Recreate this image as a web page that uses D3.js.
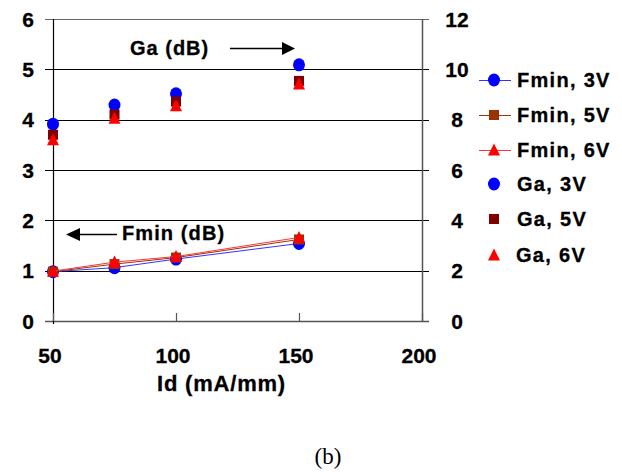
<!DOCTYPE html>
<html><head><meta charset="utf-8">
<script src="https://cdn.jsdelivr.net/npm/d3@7"></script>
<style>body{margin:0;background:#fff}svg{display:block}</style>
</head><body>
<script>
const idValues = [50, 75, 100, 150];
const fmin3V = [0.98, 1.06, 1.23, 1.54];
const fmin5V = [0.98, 1.13, 1.26, 1.62];
const fmin6V = [0.99, 1.17, 1.28, 1.66];
const ga3V = [7.82, 8.58, 9.03, 10.18];
const ga5V = [7.4, 8.2, 8.72, 9.54];
const ga6V = [7.2, 8.06, 8.55, 9.42];
const xTicks = [50, 100, 150, 200];
const yLeftTicks = [0, 1, 2, 3, 4, 5, 6];
const yRightTicks = [0, 2, 4, 6, 8, 10, 12];
const legendLabels = ["Fmin, 3V", "Fmin, 5V", "Fmin, 6V", "Ga, 3V", "Ga, 5V", "Ga, 6V"];

const W = 622, H = 476;
const svg = d3.select("body").append("svg").attr("width", W).attr("height", H);
const L = 53, R = 422, T = 19, B = 321;
const x = d3.scaleLinear().domain([50, 200]).range([L, R]);
const yL = d3.scaleLinear().domain([0, 6]).range([B, T]);
const yR = d3.scaleLinear().domain([0, 12]).range([B, T]);
const font = "Arial, 'Liberation Sans', sans-serif";

// gridlines
svg.append("g").selectAll("line").data(yLeftTicks.filter(d => d > 0 && d < 6)).join("line")
  .attr("x1", L - 8).attr("x2", R + 7).attr("y1", d => Math.round(yL(d)) + 0.5).attr("y2", d => Math.round(yL(d)) + 0.5)
  .attr("stroke", "#000").attr("stroke-width", 1);
svg.append("line").attr("x1", L - 8).attr("x2", R + 7).attr("y1", Math.round(yL(6)) + 0.5).attr("y2", Math.round(yL(6)) + 0.5)
  .attr("stroke", "#666").attr("stroke-width", 1.2);
// bottom axis
svg.append("line").attr("x1", L - 8).attr("x2", R + 7).attr("y1", Math.round(yL(0)) + 0.5).attr("y2", Math.round(yL(0)) + 0.5)
  .attr("stroke", "#555").attr("stroke-width", 1.5);
// left axis
svg.append("line").attr("x1", L + 0.5).attr("x2", L + 0.5).attr("y1", T).attr("y2", B + 3).attr("stroke", "#000").attr("stroke-width", 1.2);
// right axis
svg.append("line").attr("x1", R + 0.5).attr("x2", R + 0.5).attr("y1", T).attr("y2", B + 1).attr("stroke", "#555").attr("stroke-width", 1.5);
// x ticks (inside, upward)
svg.append("g").selectAll("line").data(xTicks).join("line")
  .attr("x1", d => Math.round(x(d)) + 0.5).attr("x2", d => Math.round(x(d)) + 0.5)
  .attr("y1", B - 8).attr("y2", B).attr("stroke", "#555").attr("stroke-width", 1.2);

// tick labels
const boldText = sel => sel.attr("font-family", font).attr("font-weight", "bold")
  .attr("stroke", "#000").attr("stroke-width", 0.3);
svg.append("g").selectAll("text").data(yLeftTicks).join("text")
  .attr("x", 34).attr("y", d => yL(d) + 7.5).attr("text-anchor", "end")
  .call(boldText).attr("font-size", 21).text(d => d);
svg.append("g").selectAll("text").data(yRightTicks).join("text")
  .attr("x", 457).attr("y", d => yR(d) + 7.5).attr("text-anchor", "middle")
  .call(boldText).attr("font-size", 21).text(d => d);
svg.append("g").selectAll("text").data(xTicks).join("text")
  .attr("x", d => x(d) - 3).attr("y", 363).attr("text-anchor", "middle")
  .call(boldText).attr("font-size", 21).text(d => d);
svg.append("text").attr("x", 157).attr("y", 391)
  .call(boldText).attr("font-size", 22).attr("letter-spacing", 0.8).text("Id (mA/mm)");
svg.append("text").attr("x", 328).attr("y", 464).attr("text-anchor", "middle")
  .attr("font-family", "'Liberation Serif', 'Times New Roman', serif").attr("font-size", 23).text("(b)");

// annotations
svg.append("text").attr("x", 130).attr("y", 55).call(boldText).attr("font-size", 20).attr("letter-spacing", 1).text("Ga (dB)");
svg.append("line").attr("x1", 230).attr("x2", 282).attr("y1", 48.5).attr("y2", 48.5).attr("stroke", "#000").attr("stroke-width", 1.5);
svg.append("path").attr("d", "M282,42 L295,48.5 L282,55 Z").attr("fill", "#000");
svg.append("text").attr("x", 122).attr("y", 240).call(boldText).attr("font-size", 20).attr("letter-spacing", 1.1).text("Fmin (dB)");
svg.append("line").attr("x1", 80).attr("x2", 117).attr("y1", 234.5).attr("y2", 234.5).attr("stroke", "#000").attr("stroke-width", 1.5);
svg.append("path").attr("d", "M80,228 L66,234.5 L80,241 Z").attr("fill", "#000");

// marker drawing
function marker(g, type, color, cx, cy) {
  if (type === "circle") g.append("ellipse").attr("cx", cx).attr("cy", cy).attr("rx", 6).attr("ry", 6.5).attr("fill", color);
  else if (type === "square") g.append("rect").attr("x", cx - 5).attr("y", cy - 5).attr("width", 10).attr("height", 10).attr("fill", color);
  else g.append("path").attr("d", `M${cx},${cy - 6.5} L${cx + 6},${cy + 5.5} L${cx - 6},${cy + 5.5} Z`).attr("fill", color);
}

const series = [
  {vals: fmin3V, scale: yL, line: true, color: "#0000FF", lineColor: "#3333FF", type: "circle"},
  {vals: fmin5V, scale: yL, line: true, color: "#993300", lineColor: "#993300", type: "square"},
  {vals: fmin6V, scale: yL, line: true, color: "#FF0000", lineColor: "#FF3333", type: "tri"},
  {vals: ga3V, scale: yR, line: false, color: "#0000FF", type: "circle"},
  {vals: ga5V, scale: yR, line: false, color: "#800000", type: "square"},
  {vals: ga6V, scale: yR, line: false, color: "#FF0000", type: "tri"}
];
const plot = svg.append("g");
series.forEach(s => {
  const g = plot.append("g");
  if (s.line) {
    const lineGen = d3.line().x((d, i) => x(idValues[i])).y(d => s.scale(d));
    g.append("path").attr("d", lineGen(s.vals)).attr("fill", "none").attr("stroke", s.lineColor).attr("stroke-width", 1);
  }
  s.vals.forEach((v, i) => marker(g, s.type, s.color, x(idValues[i]), s.scale(v)));
});

// legend
const legY = [80, 115, 150, 184, 219, 255];
series.forEach((s, i) => {
  const g = svg.append("g");
  if (s.line) g.append("line").attr("x1", 479).attr("x2", 511).attr("y1", legY[i] + 0.5).attr("y2", legY[i] + 0.5).attr("stroke", s.lineColor).attr("stroke-width", 1);
  marker(g, s.type, s.color, 494, legY[i]);
  g.append("text").attr("x", i === 5 ? 516 : 517).attr("y", legY[i] + 6.5).call(boldText).attr("font-size", 20).attr("letter-spacing", 1.3).text(legendLabels[i]);
});
</script>
</body></html>
